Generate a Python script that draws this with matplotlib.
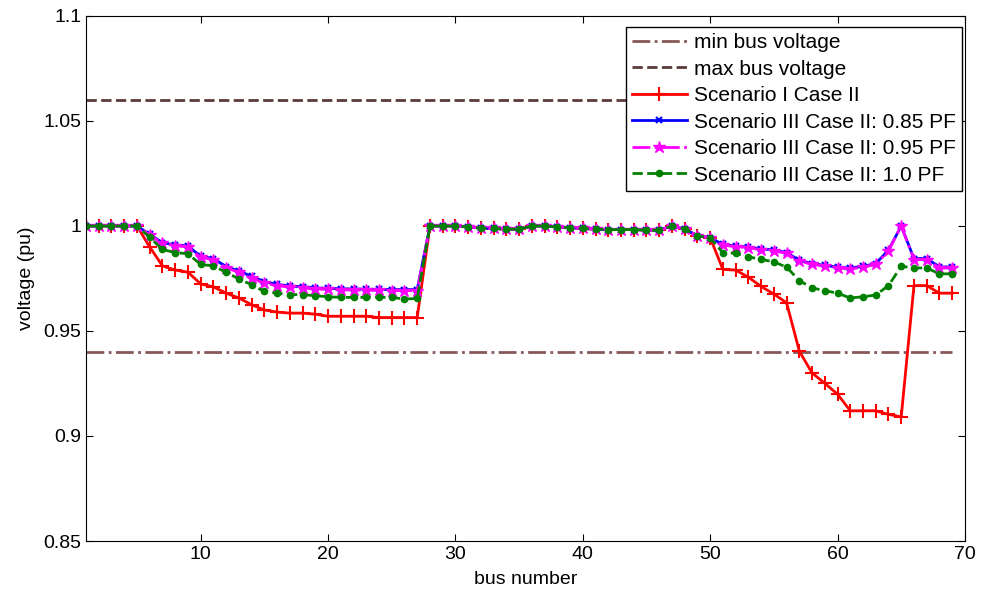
import numpy as np
import matplotlib
matplotlib.use("Agg")
import matplotlib.pyplot as plt

plt.rcParams['font.family'] = ['Liberation Sans', 'DejaVu Sans']

# Bus numbers
bus = np.arange(1, 70)

# Voltage limits
v_min = 0.94
v_max = 1.06

# Shared middle section (bus 28 - 50)
mid = [1.0, 1.0, 1.0, 0.9995, 0.999, 0.9988, 0.9985, 0.9985, 1.0, 1.0,
       0.9995, 0.9992, 0.9988, 0.9985, 0.9983, 0.9983, 0.9983, 0.998, 0.998,
       1.0, 0.9985, 0.9953, 0.9944]

# Scenario I Case II
red = ([1.0, 1.0, 1.0, 1.0, 1.0, 0.990, 0.981, 0.979, 0.978, 0.9724,
        0.971, 0.968, 0.9657, 0.9625, 0.960, 0.959, 0.9585, 0.9585, 0.958,
        0.957, 0.957, 0.957, 0.957, 0.9564, 0.9564, 0.9564, 0.9564]
       + mid
       + [0.9793, 0.979, 0.9756, 0.9712, 0.9676, 0.9634, 0.9404, 0.930,
          0.9251, 0.9199, 0.912, 0.912, 0.912, 0.9103, 0.9091, 0.9716,
          0.9716, 0.968, 0.968])

# Scenario III Case II: 0.95 PF
magenta = ([1.0, 1.0, 1.0, 1.0, 1.0, 0.9957, 0.9917, 0.9906, 0.990, 0.985,
            0.984, 0.980, 0.978, 0.9753, 0.9728, 0.9716, 0.9708, 0.9705,
            0.970, 0.9698, 0.9696, 0.9695, 0.9694, 0.9693, 0.9692, 0.9692,
            0.9692]
           + mid
           + [0.9909, 0.9901, 0.9896, 0.9887, 0.9882, 0.9869, 0.9833, 0.9817,
              0.9808, 0.980, 0.9795, 0.9804, 0.9817, 0.9881, 1.0, 0.984,
              0.984, 0.980, 0.980])

# Scenario III Case II: 0.85 PF
blue = ([1.0, 1.0, 1.0, 1.0, 1.0, 0.996, 0.992, 0.991, 0.9905, 0.9855,
         0.9845, 0.9806, 0.9786, 0.976, 0.9735, 0.9722, 0.9714, 0.9711,
         0.9705, 0.9703, 0.9701, 0.970, 0.9699, 0.9698, 0.9697, 0.9697,
         0.9697]
        + mid
        + [0.9912, 0.9904, 0.99, 0.9891, 0.9886, 0.9873, 0.9837, 0.9821,
           0.9812, 0.9804, 0.98, 0.9808, 0.9821, 0.9885, 1.0, 0.9845,
           0.9845, 0.9805, 0.9805])

# Scenario III Case II: 1.0 PF
green = ([1.0, 1.0, 1.0, 1.0, 1.0, 0.9946, 0.9888, 0.9873, 0.9868, 0.9817,
          0.981, 0.9779, 0.9748, 0.972, 0.9688, 0.968, 0.9673, 0.9673,
          0.9668, 0.9663, 0.966, 0.966, 0.966, 0.966, 0.966, 0.9652, 0.9655]
         + mid
         + [0.9873, 0.987, 0.9853, 0.9841, 0.9829, 0.9804, 0.974, 0.9705,
            0.9692, 0.968, 0.9657, 0.9663, 0.9671, 0.9716, 0.9808, 0.980,
            0.980, 0.9772, 0.9772])

fig = plt.figure(figsize=(9.82, 5.94), dpi=100)
ax = fig.add_axes([0.0876, 0.0892, 0.895, 0.884])

# Limit lines
ax.plot([bus[0], bus[-1]], [v_min, v_min], '-.', color='#875858', lw=2,
        label='min bus voltage')
ax.plot([bus[0], bus[-1]], [v_max, v_max], '--', color='#5c3a3a', lw=2,
        label='max bus voltage')

# Scenario curves
ax.plot(bus, red, '-', color='red', lw=2, marker='+', ms=10, mew=1.5,
        label='Scenario I Case II')
ax.plot(bus, blue, '-', color='blue', lw=2, marker='x', ms=4, mew=1.5,
        label='Scenario III Case II: 0.85 PF')
ax.plot(bus, magenta, '-.', color='magenta', lw=2, marker='*', ms=9,
        label='Scenario III Case II: 0.95 PF')
ax.plot(bus, green, '--', color='green', lw=2, marker='.', ms=9,
        label='Scenario III Case II: 1.0 PF')

ax.set_xlim(1, 70)
ax.set_ylim(0.85, 1.1)
ax.set_xticks([10, 20, 30, 40, 50, 60, 70])
ax.set_yticks([0.85, 0.9, 0.95, 1.0, 1.05, 1.1])
ax.set_yticklabels(['0.85', '0.9', '0.95', '1', '1.05', '1.1'])
ax.tick_params(direction='in', top=True, right=True, labelsize=14, length=5)
ax.set_xlabel('bus number', fontsize=14, labelpad=6)
ax.set_ylabel('voltage (pu)', fontsize=14, labelpad=6)

leg = ax.legend(loc='upper right', bbox_to_anchor=(0.9966, 0.979),
                fontsize=15, frameon=True, fancybox=False,
                edgecolor='black', framealpha=1, borderpad=0.3,
                labelspacing=0.36, handlelength=2.6, handletextpad=0.35,
                borderaxespad=0)
leg.get_frame().set_linewidth(1)

fig.savefig('out.png', dpi=100)
